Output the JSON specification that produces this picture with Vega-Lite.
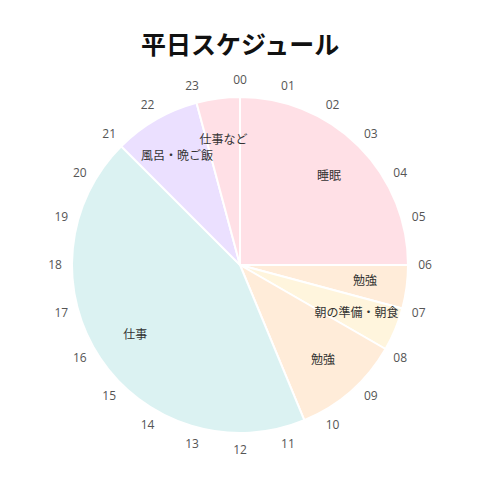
{
  "$schema": "https://vega.github.io/schema/vega-lite/v6.json",
  "title": {
    "text": "平日スケジュール",
    "font": "Noto Sans CJK JP",
    "fontSize": 25,
    "fontWeight": "bold",
    "color": "#111111",
    "anchor": "middle",
    "offset": 1
  },
  "autosize": "none",
  "padding": {"top": 60, "left": 0, "right": 0, "bottom": 0},
  "width": 480,
  "height": 410,
  "view": {"stroke": null},
  "config": {"text": {"font": "Noto Sans CJK JP"}},
  "layer": [
    {
      "data": {
        "name": "schedule",
        "values": [
          {"order": 1, "label": "睡眠", "hours": 6},
          {"order": 2, "label": "勉強", "hours": 1},
          {"order": 3, "label": "朝の準備・朝食", "hours": 1},
          {"order": 4, "label": "勉強", "hours": 2.5},
          {"order": 5, "label": "仕事", "hours": 10.5},
          {"order": 6, "label": "風呂・晩ご飯", "hours": 2},
          {"order": 7, "label": "仕事など", "hours": 1}
        ]
      },
      "layer": [
        {
          "mark": {"type": "arc", "outerRadius": 168, "stroke": "white", "strokeWidth": 2},
          "encoding": {
            "theta": {"field": "hours", "type": "quantitative", "stack": true, "scale": {"domain": [0, 24]}},
            "order": {"field": "order", "type": "quantitative"},
            "color": {
              "field": "label",
              "type": "nominal",
              "scale": {
                "domain": ["睡眠", "勉強", "朝の準備・朝食", "仕事", "風呂・晩ご飯", "仕事など"],
                "range": ["#FFE0E6", "#FFECD9", "#FFF5DD", "#DBF2F2", "#EBE0FF", "#FFE0E6"]
              },
              "legend": null
            }
          }
        },
        {
          "mark": {"type": "text", "radius": 126, "fontSize": 12, "color": "#333333"},
          "encoding": {
            "theta": {"field": "hours", "type": "quantitative", "stack": true, "scale": {"domain": [0, 24]}},
            "order": {"field": "order", "type": "quantitative"},
            "text": {"field": "label"}
          }
        }
      ]
    },
    {
      "data": {
        "values": [
          {"h": 0, "name": "00"}, {"h": 1, "name": "01"}, {"h": 2, "name": "02"}, {"h": 3, "name": "03"},
          {"h": 4, "name": "04"}, {"h": 5, "name": "05"}, {"h": 6, "name": "06"}, {"h": 7, "name": "07"},
          {"h": 8, "name": "08"}, {"h": 9, "name": "09"}, {"h": 10, "name": "10"}, {"h": 11, "name": "11"},
          {"h": 12, "name": "12"}, {"h": 13, "name": "13"}, {"h": 14, "name": "14"}, {"h": 15, "name": "15"},
          {"h": 16, "name": "16"}, {"h": 17, "name": "17"}, {"h": 18, "name": "18"}, {"h": 19, "name": "19"},
          {"h": 20, "name": "20"}, {"h": 21, "name": "21"}, {"h": 22, "name": "22"}, {"h": 23, "name": "23"}
        ]
      },
      "mark": {"type": "text", "radius": 185, "fontSize": 12, "color": "#555555", "font": "Open Sans"},
      "encoding": {
        "theta": {"field": "h", "type": "quantitative", "stack": null, "scale": {"domain": [0, 24]}},
        "text": {"field": "name"}
      }
    }
  ]
}
